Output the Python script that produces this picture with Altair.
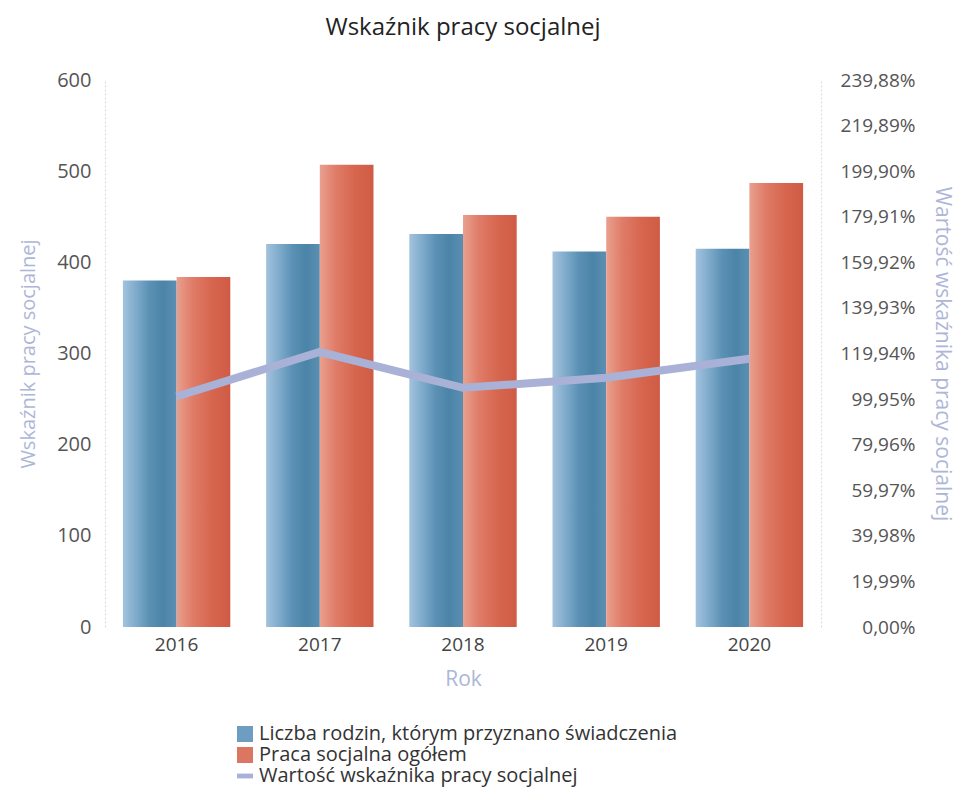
import altair as alt
import pandas as pd

years = ["2016", "2017", "2018", "2019", "2020"]
rodziny = [380, 420, 431, 412, 415]          # Liczba rodzin, którym przyznano świadczenia
praca = [384, 507, 452, 450, 487]            # Praca socjalna ogółem
wskaznik = [1.011, 1.206, 1.049, 1.093, 1.176]  # Wartość wskaźnika pracy socjalnej

series_names = [
    "Liczba rodzin, którym przyznano świadczenia",
    "Praca socjalna ogółem",
    "Wartość wskaźnika pracy socjalnej",
]
legend_colors = ["#6d9dc1", "#dc7662", "#a9b2d6"]
right_ticks = [0, 0.1999, 0.3998, 0.5997, 0.7996, 0.9995, 1.1994, 1.3993,
               1.5992, 1.7991, 1.999, 2.1989, 2.3988]

FONT = "Open Sans"
LAV = "#aeb6d8"

bars_df = pd.DataFrame({
    "Rok": years * 2,
    "value": rodziny + praca,
    "s": ["a"] * 5 + ["b"] * 5,
})
line_df = pd.DataFrame({"Rok": years, "w": wskaznik})
leg_df = pd.DataFrame({"Rok": ["2016"] * 3, "seria": series_names})

xenc = alt.X("Rok:N", sort=years,
             scale=alt.Scale(paddingInner=0.25, paddingOuter=0.125),
             axis=alt.Axis(title="Rok", labelAngle=0, ticks=False, domain=False,
                           labelFontSize=19, labelColor="#444", labelPadding=8,
                           titleFontSize=21, titleColor=LAV, titleFontWeight="normal",
                           titlePadding=14))
off = alt.XOffset("s:N", scale=alt.Scale(domain=["a", "b"], paddingInner=0, paddingOuter=0))
yleft = alt.Y("value:Q", scale=alt.Scale(domain=[0, 600], nice=False),
              axis=alt.Axis(title="Wskaźnik pracy socjalnej", values=[0, 100, 200, 300, 400, 500, 600],
                            grid=False, ticks=False, domainColor="#d8d8d8", domainDash=[2, 2],
                            labelFontSize=20, labelColor="#555", labelPadding=14,
                            titleFontSize=20, titleColor=LAV, titleFontWeight="normal",
                            titlePadding=18))

blue_grad = alt.Gradient(gradient="linear", x1=0, x2=1, y1=0, y2=0, stops=[
    alt.GradientStop(color="#a3c3dd", offset=0),
    alt.GradientStop(color="#7eaacb", offset=0.25),
    alt.GradientStop(color="#5a90b3", offset=0.5),
    alt.GradientStop(color="#4b84a8", offset=0.75),
    alt.GradientStop(color="#5b8fb2", offset=1),
])
red_grad = alt.Gradient(gradient="linear", x1=0, x2=1, y1=0, y2=0, stops=[
    alt.GradientStop(color="#e9a08f", offset=0),
    alt.GradientStop(color="#df7c68", offset=0.3),
    alt.GradientStop(color="#d7664f", offset=0.65),
    alt.GradientStop(color="#cf5b45", offset=1),
])

base_bar = alt.Chart(bars_df).encode(x=xenc, xOffset=off, y=yleft)
blue = base_bar.transform_filter(alt.datum.s == "a").mark_bar(color=blue_grad)
red = base_bar.transform_filter(alt.datum.s == "b").mark_bar(color=red_grad)
bars = alt.layer(blue, red)

line = alt.Chart(line_df).mark_line(color="#a9b2d6", strokeWidth=8, strokeCap="butt").encode(
    x=alt.X("Rok:N", sort=years),
    y=alt.Y("w:Q", scale=alt.Scale(domain=[0, 2.3988], nice=False),
            axis=alt.Axis(orient="right", title="Wartość wskaźnika pracy socjalnej",
                          values=right_ticks, grid=False, ticks=False,
                          domainColor="#d8d8d8", domainDash=[2, 2],
                          labelExpr="replace(format(datum.value*100, '.2f'), '.', ',') + '%'",
                          labelAlign="right", labelPadding=94,
                          labelFontSize=19, labelColor="#555",
                          titleFontSize=21, titleColor=LAV, titleFontWeight="normal",
                          titlePadding=16, titleAngle=90)),
)

leg_props = dict(title=None, orient="none", legendX=130, legendY=644,
                 symbolOpacity=1, symbolSize=256, symbolStrokeWidth=0,
                 labelFontSize=20, labelColor="#333", labelLimit=600,
                 rowPadding=1, symbolOffset=0, labelOffset=4)

legend_layer = alt.Chart(leg_df).mark_point(filled=True, size=0, opacity=1).encode(
    x=alt.X("Rok:N", sort=years),
    color=alt.Color("seria:N", sort=series_names,
                    scale=alt.Scale(domain=series_names, range=legend_colors),
                    legend=alt.Legend(**leg_props)),
    shape=alt.Shape("seria:N", sort=series_names,
                    scale=alt.Scale(domain=series_names,
                                    range=["square", "square", "M-1,-0.3H1V0.3H-1Z"]),
                    legend=alt.Legend(**leg_props)),
)

chart = alt.layer(bars, line, legend_layer).resolve_scale(y="independent").properties(
    width=716, height=547,
    padding={"left": 10, "top": 8, "right": 5, "bottom": 5},
    title=alt.TitleParams("Wskaźnik pracy socjalnej", fontSize=24, font=FONT,
                          fontWeight=500, color="#222", offset=30),
).configure(font=FONT).configure_view(stroke=None)

chart.save("out.html", embed_options={"renderer": "svg", "actions": False})
